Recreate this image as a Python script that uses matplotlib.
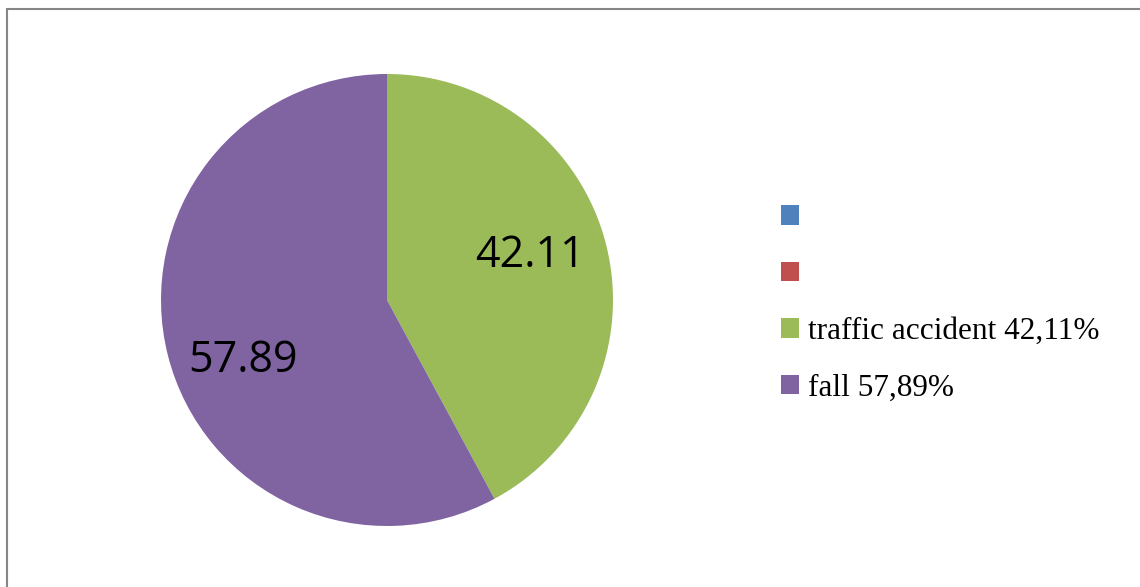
import matplotlib
matplotlib.use("Agg")
import matplotlib.pyplot as plt
from matplotlib.patches import Patch, Rectangle

# data
categories = ["", "", "traffic accident 42,11%", "fall 57,89%"]
values = [0.0, 0.0, 42.11, 57.89]
colors = ["#4f81bd", "#c0504d", "#9bbb59", "#8064a2"]

W, H = 1140, 587
CX, CY, R = 387, H - 300, 226
fig = plt.figure(figsize=(W / 100, H / 100), dpi=100)
fig.patch.set_facecolor("white")

# outer chart frame (runs off the right and bottom edges)
fig.patches.append(Rectangle((7 / W, -0.1), 1.2, (H - 8.5) / H + 0.1,
                             transform=fig.transFigure, fill=False,
                             edgecolor="#868686", lw=1.5))

ax = fig.add_axes([0, 0, 1, 1])

# skip zero slices for drawing, keep them in legend
draw = [(v, c) for v, c in zip(values, colors) if v > 0]
wedges, _, autotexts = ax.pie(
    [v for v, _ in draw], colors=[c for _, c in draw],
    center=(CX, CY), radius=R, startangle=90, counterclock=False,
    autopct=lambda p: f"{p:.2f}", pctdistance=0.67,
    wedgeprops=dict(edgecolor="white", lw=0), frame=True,
)
# Excel-style label placement (offsets from pie centre, in radius units)
label_offsets = [(0.633, 0.195), (-0.637, -0.27)]
for t, (ox, oy) in zip(autotexts, label_offsets):
    t.set_position((CX + ox * R, CY + oy * R))
    t.set_fontfamily("Open Sans")
    t.set_fontsize(31)
    t.set_color("black")
ax.set_xlim(0, W)
ax.set_ylim(0, H)
ax.set_aspect("equal")
ax.axis("off")

handles = [Patch(facecolor=c, edgecolor="none") for c in colors]
fig.legend(handles, [c if c else " " for c in categories],
           loc="upper left", bbox_to_anchor=(781 / W, 1 - 204 / H),
           frameon=False, prop={"family": "Liberation Serif", "size": 22.5},
           handlelength=0.58, handleheight=0.58, handletextpad=0.28,
           labelspacing=0.88, borderaxespad=0, borderpad=0)

fig.savefig("out.png", dpi=100, facecolor="white")
